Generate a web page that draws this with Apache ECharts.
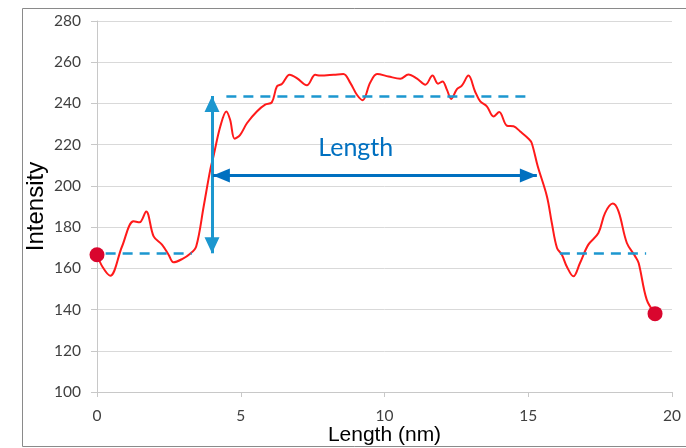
<!DOCTYPE html>
<html>
<head>
<meta charset="utf-8">
<script src="https://cdn.jsdelivr.net/npm/echarts@6/dist/echarts.min.js"></script>
<style>
html,body{margin:0;padding:0;background:#fff;}
#chart{width:686px;height:448px;}
</style>
</head>
<body>
<div id="chart"></div>
<script>
// Profile data (Length in nm, Intensity)
const profileX = [0,0.2,0.46,0.87,1.27,1.48,1.71,1.97,2.26,2.49,2.66,2.96,3.24,3.45,3.71,3.94,4.05,4.29,4.5,4.63,4.79,4.98,5.22,5.56,5.85,6.08,6.26,6.43,6.7,6.95,7.3,7.59,7.76,8.23,8.57,8.81,9.04,9.24,9.5,9.74,10.14,10.55,10.83,11.13,11.42,11.67,11.86,12.02,12.17,12.32,12.52,12.69,12.92,13.15,13.33,13.56,13.79,13.99,14.26,14.49,14.72,15.01,15.12,15.33,15.65,15.82,16.0,16.17,16.34,16.57,16.8,17.09,17.44,17.67,17.94,18.14,18.43,18.72,18.84,19.12,19.41];
const profileY = [166.6,160.5,156.4,170.6,182.8,182.3,187.6,175.5,171.5,166.6,162.9,164.5,167.1,170.6,190,207.9,214.3,228.9,236.1,232.1,222.9,224.8,230.5,236.1,239.4,240.5,248.3,249.4,253.9,252.3,248.8,253.9,253.5,253.9,254.3,250,244.2,241.6,250,254.3,253.1,252,254,252,249.1,253.5,249.6,250.7,246.7,242.2,247,248.6,253.5,245.8,241,238.6,233.7,235.8,229.2,228.9,226.4,222.9,220.8,209.5,194.9,182,169.9,166.6,160.9,156.1,162.6,171.5,177.1,186.8,191.4,187.6,172.3,165.8,162.6,144.8,138];
// End markers
const endPointsX = [0, 19.41];
const endPointsY = [166.6, 138];
// Annotation levels
const baseLevel = 167.3;
const topLevel = 243.6;
const leftDash = [0.3, 3.3];
const topDash = [4.5, 15.0];
const rightDash = [16.1, 19.1];
const heightArrowX = 4.0;
const lengthArrowY = 205;
const lengthArrowX = [4.03, 15.3];
const lengthLabel = 'Length';
const lengthLabelPos = [9.0, 218.5];
// Axis ticks
const xTicks = {min: 0, max: 20, interval: 5};
const yTicks = {min: 100, max: 280, interval: 20};

const chart = echarts.init(document.getElementById('chart'), null, {renderer: 'canvas'});
const lineData = profileX.map((x, i) => [x, profileY[i]]);
const dotData = endPointsX.map((x, i) => [x, endPointsY[i]]);
const lightBlue = '#1c97cf';
const darkBlue = '#0070c0';

const option = {
  backgroundColor: '#fff',
  animation: false,
  graphic: [{
    type: 'rect', left: 20, top: 6, silent: true, z: -10,
    shape: {width: 700, height: 438},
    style: {fill: 'none', stroke: '#8a8a8a', lineWidth: 1}
  }],
  grid: {left: 97, right: 14, top: 21, bottom: 56, containLabel: false, outerBoundsMode: 'none'},
  xAxis: {
    type: 'value', min: xTicks.min, max: xTicks.max, interval: xTicks.interval,
    name: 'Length (nm)', nameLocation: 'middle', nameGap: 33, nameMoveOverlap: false,
    nameTextStyle: {fontFamily: 'Liberation Sans', fontSize: 21, color: '#000'},
    axisLine: {show: true, lineStyle: {color: '#c8c8c8', width: 1}},
    axisTick: {show: true, length: 5, lineStyle: {color: '#c8c8c8'}},
    axisLabel: {fontFamily: 'Lato', fontSize: 15.5, color: '#404040', margin: 16},
    splitLine: {show: false}
  },
  yAxis: {
    type: 'value', min: yTicks.min, max: yTicks.max, interval: yTicks.interval,
    name: 'Intensity', nameLocation: 'middle', nameGap: 49, nameMoveOverlap: false,
    nameTextStyle: {fontFamily: 'Liberation Sans', fontSize: 24, color: '#000'},
    axisLine: {show: true, lineStyle: {color: '#c8c8c8', width: 1}},
    axisTick: {show: true, length: 6, lineStyle: {color: '#c8c8c8'}},
    axisLabel: {fontFamily: 'Lato', fontSize: 15.5, color: '#404040', margin: 16},
    splitLine: {show: true, lineStyle: {color: '#d9d9d9', width: 1}}
  },
  series: [
    {
      type: 'line', data: lineData, smooth: 0.35, showSymbol: false, symbol: 'none',
      lineStyle: {color: '#ff1a1a', width: 2}, silent: true, z: 3
    },
    {
      type: 'scatter', data: dotData, symbolSize: 15, silent: true, z: 5,
      itemStyle: {color: '#d9062e', opacity: 1},
      markLine: {
        silent: true, animation: false,
        label: {show: false},
        emphasis: {disabled: true},
        symbol: ['none', 'none'],
        data: [
          [{coord: [leftDash[0], baseLevel], lineStyle: {color: lightBlue, width: 2.5, type: [10, 7]}}, {coord: [leftDash[1], baseLevel]}],
          [{coord: [topDash[0], topLevel], lineStyle: {color: lightBlue, width: 2.5, type: [10, 7]}}, {coord: [topDash[1], topLevel]}],
          [{coord: [rightDash[0], baseLevel], lineStyle: {color: lightBlue, width: 2.5, type: [10, 7]}}, {coord: [rightDash[1], baseLevel]}],
          [{coord: [heightArrowX, baseLevel], symbol: 'triangle', symbolSize: [15, 16], symbolOffset: [0, '50%'],
            lineStyle: {color: lightBlue, width: 3, type: 'solid'}, itemStyle: {color: lightBlue}},
           {coord: [heightArrowX, topLevel], symbol: 'triangle', symbolSize: [15, 16], symbolOffset: [0, '50%'], itemStyle: {color: lightBlue}}],
          [{coord: [lengthArrowX[0], lengthArrowY], symbol: 'triangle', symbolSize: [14, 17], symbolOffset: [0, '50%'],
            lineStyle: {color: darkBlue, width: 3, type: 'solid'}, itemStyle: {color: darkBlue}},
           {coord: [lengthArrowX[1], lengthArrowY], symbol: 'triangle', symbolSize: [14, 17], symbolOffset: [0, '50%'], itemStyle: {color: darkBlue}}]
        ]
      },
      markPoint: {
        silent: true, animation: false,
        symbol: 'circle', symbolSize: 0,
        data: [{coord: lengthLabelPos, value: lengthLabel}],
        label: {show: true, position: 'inside', formatter: lengthLabel,
          fontFamily: 'Lato', fontSize: 25, color: darkBlue}
      }
    }
  ]
};
chart.setOption(option);
</script>
</body>
</html>
